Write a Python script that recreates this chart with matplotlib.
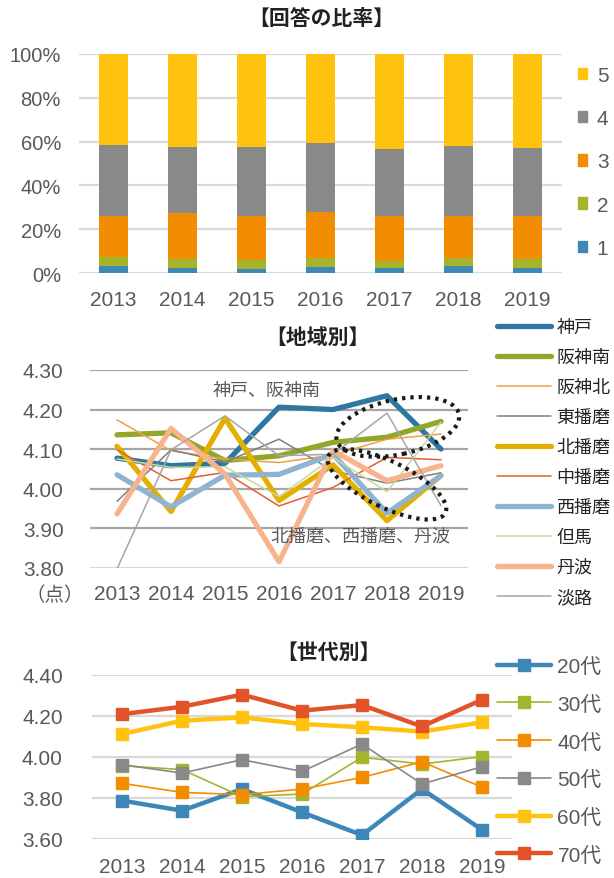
import matplotlib
matplotlib.use('Agg')
import matplotlib.pyplot as plt
from matplotlib.patches import Ellipse, Patch
from matplotlib.transforms import IdentityTransform
import numpy as np

plt.rcParams['font.family'] = ['Liberation Sans', 'Noto Sans CJK JP']
TXT = '#595959'

years = ['2013', '2014', '2015', '2016', '2017', '2018', '2019']

# 回答の比率 (%)
ans_labels = ['1', '2', '3', '4', '5']
ans1 = [3.3, 2.1, 1.7, 2.7, 2.3, 3.0, 2.1]
ans2 = [4.2, 4.1, 4.1, 4.1, 3.2, 3.7, 4.3]
ans3 = [18.5, 21.0, 20.2, 21.1, 20.5, 19.3, 19.6]
ans4 = [32.6, 30.3, 31.7, 31.3, 30.8, 32.1, 31.2]
ans5 = [41.4, 42.5, 42.3, 40.8, 43.2, 41.9, 42.8]
ans_colors = ['#3F87B5', '#A5B52B', '#F28C00', '#898989', '#FFC20E']

# 地域別
regions = ['神戸', '阪神南', '阪神北', '東播磨', '北播磨', '中播磨', '西播磨', '但馬', '丹波', '淡路']
kobe = [4.077, 4.058, 4.064, 4.206, 4.200, 4.235, 4.100]
hanshin_s = [4.136, 4.141, 4.071, 4.083, 4.117, 4.130, 4.170]
hanshin_n = [4.174, 4.096, 4.075, 4.066, 4.085, 4.125, 4.138]
higashi = [3.968, 4.098, 4.067, 4.125, 4.045, 4.014, 4.040]
kita = [4.107, 3.942, 4.178, 3.970, 4.060, 3.919, 4.033]
naka = [4.098, 4.020, 4.041, 3.956, 4.003, 4.079, 4.073]
nishi = [4.035, 3.954, 4.034, 4.036, 4.087, 3.938, 4.033]
tajima = [4.075, 4.054, 4.055, 3.980, 4.079, 3.992, 4.168]
tamba = [3.936, 4.152, 4.037, 3.815, 4.096, 4.020, 4.058]
awaji = [3.797, 4.098, 4.184, 4.083, 4.087, 4.191, 3.957]
region_vals = [kobe, hanshin_s, hanshin_n, higashi, kita, naka, nishi, tajima, tamba, awaji]
region_colors = ['#2E77A2', '#93A52A', '#F0A040', '#7F7F7F', '#E3B000',
                 '#E0602E', '#8FB4D0', '#C9D89A', '#F7B48C', '#A6A6A6']
region_thick = [True, True, False, False, True, False, True, False, True, False]

# 世代別
gens = ['20代', '30代', '40代', '50代', '60代', '70代']
g20 = [3.787, 3.738, 3.843, 3.730, 3.619, 3.843, 3.645]
g30 = [3.957, 3.938, 3.806, 3.819, 3.998, 3.965, 4.001]
g40 = [3.871, 3.827, 3.816, 3.843, 3.900, 3.976, 3.852]
g50 = [3.962, 3.921, 3.986, 3.929, 4.062, 3.868, 3.952]
g60 = [4.111, 4.176, 4.192, 4.160, 4.144, 4.123, 4.168]
g70 = [4.208, 4.244, 4.303, 4.225, 4.252, 4.148, 4.278]
gen_vals = [g20, g30, g40, g50, g60, g70]
gen_colors = ['#3D87B8', '#A5B52B', '#F28C00', '#898989', '#FFC20E', '#E2532A']
gen_thick = [True, False, False, False, True, True]

W, H = 614, 879
fig = plt.figure(figsize=(W / 100, H / 100), dpi=100)


def box(l, t, r, b):
    return [l / W, 1 - b / H, (r - l) / W, (b - t) / H]


def clean(ax):
    for s in ax.spines.values():
        s.set_visible(False)
    ax.tick_params(length=0, colors=TXT)
    ax.set_axisbelow(True)


x = np.arange(len(years))

# ---- 回答の比率
ax1 = fig.add_axes(box(79, 55, 562, 274))
clean(ax1)
bottom = np.zeros(len(years))
for vals, c in zip([ans1, ans2, ans3, ans4, ans5], ans_colors):
    ax1.bar(x, vals, 0.41, bottom=bottom, color=c, zorder=2)
    bottom += np.array(vals)
ax1.set_ylim(0, 100)
ax1.set_xlim(-0.5, 6.5)
ax1.set_yticks(np.arange(0, 101, 20))
ax1.set_yticklabels([f'{v}%' for v in range(0, 101, 20)], fontsize=14.5)
ax1.set_xticks(x)
ax1.set_xticklabels(years, fontsize=15)
ax1.tick_params(axis='y', pad=13)
ax1.tick_params(axis='x', pad=12)
ax1.grid(axis='y', color='#D9D9D9', lw=1.6)
fig.text(321 / W, 1 - 19 / H, '【回答の比率】', ha='center', va='center',
         fontsize=15, fontweight='bold', color='#222222')
h1 = [Patch(color=c) for c in ans_colors][::-1]
fig.legend(h1, ans_labels[::-1], loc='upper left', bbox_to_anchor=(578 / W, 1 - 67 / H),
           frameon=False, fontsize=15, handlelength=0.45, handleheight=0.45,
           handletextpad=0.45, labelspacing=1.16, borderpad=0, borderaxespad=0,
           labelcolor=TXT)

# ---- 地域別
ax2 = fig.add_axes(box(90, 371, 468, 568.7))
clean(ax2)
lines2 = []
for vals, c, thick in zip(region_vals, region_colors, region_thick):
    ln, = ax2.plot(x, vals, color=c, lw=3.8 if thick else 1.1,
                   solid_capstyle='round', solid_joinstyle='round', zorder=3)
    lines2.append(ln)
ax2.set_ylim(3.80, 4.30)
ax2.set_xlim(-0.5, 6.5)
ry = [3.8, 3.9, 4.0, 4.1, 4.2, 4.3]
ax2.set_yticks(ry)
ax2.set_yticklabels([f'{v:.2f}' for v in ry], fontsize=15)
ax2.set_xticks(x)
ax2.set_xticklabels(years, fontsize=15)
ax2.tick_params(axis='y', pad=19)
ax2.tick_params(axis='x', pad=12)
ax2.grid(axis='y', color='#A6A6A6', lw=1.6)
ax2.get_ygridlines()[0].set_color('#D9D9D9')
fig.text(317 / W, 1 - 338 / H, '【地域別】', ha='center', va='center',
         fontsize=15, fontweight='bold', color='#222222')
fig.text(55 / W, 1 - 596 / H, '（点）', ha='center', va='center', fontsize=14, color=TXT)
ax2.text(2.78, 4.25, '神戸、阪神南', ha='center', va='center', fontsize=13, color=TXT)
ax2.text(4.5, 3.88, '北播磨、西播磨、丹波', ha='center', va='center', fontsize=13, color=TXT)

fig.canvas.draw()
for cx, cy, w, h, ang in [(5.2, 4.156, 125, 55, 12), (5.0, 4.011, 130, 46, -26)]:
    px, py = ax2.transData.transform((cx, cy))
    e = Ellipse((px, py), w, h, angle=ang, fill=False, edgecolor='#1A1A1A',
                lw=3, linestyle=(0, (0.8, 1.2)), transform=IdentityTransform(), zorder=5)
    fig.add_artist(e)

fig.legend(lines2, regions, loc='upper left', bbox_to_anchor=(497 / W, 1 - 320 / H),
           frameon=False, fontsize=13, handlelength=3.0, handletextpad=0.3,
           labelspacing=0.72, borderpad=0, borderaxespad=0, labelcolor='#222222')

# ---- 世代別
ax3 = fig.add_axes(box(92, 675.7, 512, 840))
clean(ax3)
lines3 = []
for vals, c, thick in zip(gen_vals, gen_colors, gen_thick):
    ln, = ax3.plot(x, vals, color=c, lw=3.2 if thick else 1.2, marker='s',
                   markersize=8.5, markeredgecolor=c,
                   solid_capstyle='round', solid_joinstyle='round', zorder=3)
    lines3.append(ln)
ax3.set_ylim(3.60, 4.40)
ax3.set_xlim(-0.5, 6.5)
gy = [3.6, 3.8, 4.0, 4.2, 4.4]
ax3.set_yticks(gy)
ax3.set_yticklabels([f'{v:.2f}' for v in gy], fontsize=15)
ax3.set_xticks(x)
ax3.set_xticklabels(years, fontsize=15)
ax3.tick_params(axis='y', pad=21)
ax3.tick_params(axis='x', pad=13)
ax3.grid(axis='y', color='#D9D9D9', lw=1.6)
fig.text(328 / W, 1 - 653 / H, '【世代別】', ha='center', va='center',
         fontsize=15, fontweight='bold', color='#222222')
fig.legend(lines3, gens, loc='upper left', bbox_to_anchor=(497 / W, 1 - 658 / H),
           frameon=False, fontsize=15, handlelength=2.6, handletextpad=0.3,
           labelspacing=0.9, borderpad=0, borderaxespad=0, labelcolor=TXT)

fig.savefig('out.png', dpi=100)
